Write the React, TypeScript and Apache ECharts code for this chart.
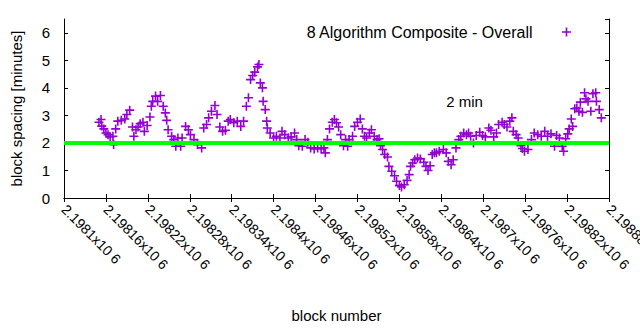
import React, { useEffect, useRef } from "react";
import * as echarts from "echarts";

const seriesName = "8 Algorithm Composite - Overall";
const xAxisTitle = "block number";
const yAxisTitle = "block spacing [minutes]";
const noteText = "2 min";
const notePosition = [2198647, 3.5];
const targetMinutes = 2;

const xMin = 2198100;
const xMax = 2198880;
const xStep = 60;
const xTickLabels = [
  "2.1981x10 6", "2.19816x10 6", "2.19822x10 6", "2.19828x10 6", "2.19834x10 6",
  "2.1984x10 6", "2.19846x10 6", "2.19852x10 6", "2.19858x10 6", "2.19864x10 6",
  "2.1987x10 6", "2.19876x10 6", "2.19882x10 6", "2.19888x10 6",
];
const yMin = 0;
const yMax = 6.5;
const yTickLabels = ["0", "1", "2", "3", "4", "5", "6"];

const blockNumbers = [
  2198150, 2198153, 2198154, 2198157, 2198160, 2198163, 2198166, 2198170, 2198171, 2198174,
  2198177, 2198182, 2198187, 2198190, 2198194, 2198198, 2198200, 2198203, 2198206, 2198209,
  2198213, 2198215, 2198219, 2198223, 2198225, 2198227, 2198231, 2198234, 2198238, 2198242,
  2198245, 2198247, 2198249, 2198254, 2198257, 2198260, 2198263, 2198267, 2198269, 2198274,
  2198278, 2198281, 2198286, 2198291, 2198297, 2198300, 2198304, 2198307, 2198311, 2198316,
  2198319, 2198323, 2198327, 2198331, 2198335, 2198338, 2198343, 2198348, 2198353, 2198357,
  2198361, 2198364, 2198367, 2198370, 2198373, 2198377, 2198379, 2198381, 2198384, 2198385,
  2198388, 2198390, 2198391, 2198395, 2198400, 2198404, 2198409, 2198412, 2198416, 2198421,
  2198425, 2198430, 2198433, 2198436, 2198441, 2198445, 2198449, 2198453, 2198458, 2198463,
  2198468, 2198472, 2198474, 2198477, 2198480, 2198484, 2198487, 2198490, 2198493, 2198496,
  2198500, 2198503, 2198506, 2198508, 2198513, 2198516, 2198520, 2198524, 2198527, 2198530,
  2198533, 2198537, 2198540, 2198544, 2198548, 2198551, 2198553, 2198556, 2198559, 2198563,
  2198565, 2198569, 2198573, 2198576, 2198580, 2198583, 2198587, 2198591, 2198594, 2198596,
  2198599, 2198602, 2198606, 2198610, 2198615, 2198618, 2198621, 2198624, 2198627, 2198630,
  2198633, 2198637, 2198643, 2198647, 2198650, 2198654, 2198657, 2198661, 2198665, 2198668,
  2198672, 2198676, 2198679, 2198682, 2198686, 2198690, 2198695, 2198699, 2198703, 2198708,
  2198711, 2198715, 2198719, 2198722, 2198727, 2198730, 2198734, 2198738, 2198741, 2198743,
  2198747, 2198750, 2198754, 2198756, 2198759, 2198764, 2198769, 2198773, 2198778, 2198783,
  2198788, 2198792, 2198797, 2198802, 2198805, 2198809, 2198813, 2198815, 2198818, 2198821,
  2198823, 2198826, 2198828, 2198831, 2198834, 2198837, 2198839, 2198842, 2198845, 2198847,
  2198850, 2198854, 2198857, 2198861, 2198862, 2198866, 2198869,
];

const spacingMinutes = [
  2.75, 2.85, 2.61, 2.51, 2.36, 2.30, 2.22, 2.24, 1.94, 2.51,
  2.79, 2.82, 2.87, 3.03, 3.19, 2.58, 2.24, 2.48, 2.58, 2.70,
  2.75, 2.42, 2.63, 2.94, 3.33, 3.51, 3.70, 3.51, 3.72, 3.33,
  3.09, 2.82, 2.48, 2.24, 2.12, 1.88, 2.18, 1.88, 2.18, 2.60,
  2.48, 2.30, 2.12, 1.94, 1.82, 2.54, 2.67, 2.91, 3.15, 3.36,
  3.03, 2.58, 2.42, 2.46, 2.79, 2.85, 2.73, 2.79, 2.60, 2.79,
  3.33, 3.64, 4.30, 4.45, 4.57, 4.76, 4.85, 4.18, 4.00, 3.51,
  3.21, 2.79, 2.54, 2.36, 2.18, 2.24, 2.18, 2.42, 2.30, 2.18,
  2.22, 2.36, 2.12, 1.90, 1.88, 2.12, 2.02, 1.82, 1.78, 1.82,
  1.78, 1.82, 1.64, 2.12, 2.51, 2.75, 2.85, 2.73, 2.58, 2.30,
  1.90, 2.12, 1.88, 2.12, 2.24, 2.60, 2.75, 2.87, 2.51, 2.24,
  2.18, 2.36, 2.48, 2.24, 2.12, 2.15, 1.90, 1.76, 1.58, 1.49,
  1.15, 0.97, 0.81, 0.61, 0.45, 0.40, 0.48, 0.64, 0.85, 1.15,
  1.27, 1.39, 1.45, 1.42, 1.30, 1.15, 1.00, 1.17, 1.58, 1.64,
  1.64, 1.70, 1.76, 1.64, 1.33, 1.21, 1.39, 1.82, 2.12, 2.24,
  2.36, 2.30, 2.36, 2.24, 2.00, 2.27, 2.39, 2.27, 2.22, 2.54,
  2.46, 2.22, 2.36, 2.67, 2.75, 2.67, 2.58, 2.79, 2.91, 2.42,
  2.30, 2.18, 1.90, 1.80, 1.70, 1.76, 2.12, 2.36, 2.30, 2.24,
  2.42, 2.24, 2.33, 1.88, 2.27, 2.18, 1.88, 1.70, 2.15, 2.33,
  2.51, 2.87, 2.60, 3.24, 3.27, 3.15, 3.48, 3.11, 3.82, 3.60,
  3.51, 3.15, 3.79, 3.82, 3.51, 3.21, 2.91,
];

const PURPLE = "#9400d3";
const GREEN = "#00ff00";
const FONT = "Liberation Sans";
const PLUS = "path://M3.7,0H5.3V3.7H9V5.3H5.3V9H3.7V5.3H0V3.7H3.7Z";

export default function App() {
  const ref = useRef<HTMLDivElement>(null);

  useEffect(() => {
    if (!ref.current) return;
    const chart = echarts.init(ref.current, undefined, { renderer: "svg" });

    const points = blockNumbers.map((b, i) => [b, spacingMinutes[i]]);

    const axisLineStyle = { color: "#000", width: 1 };
    const tick = { show: true, inside: true, length: 4, lineStyle: { color: "#000" } };

    chart.setOption({
      animation: false,
      backgroundColor: "#fff",
      textStyle: { fontFamily: FONT },
      grid: {
        left: 64,
        right: 31,
        top: 19,
        bottom: 132,
        containLabel: false,
        outerBoundsMode: "none",
      },
      legend: {
        data: [{ name: seriesName, icon: PLUS }],
        right: 69,
        top: 24,
        padding: 0,
        align: "right",
        itemWidth: 58,
        itemHeight: 9,
        selectedMode: false,
        textStyle: { fontFamily: FONT, fontSize: 16, color: "#000" },
      },
      xAxis: [
        {
          type: "value",
          min: xMin,
          max: xMax,
          interval: xStep,
          position: "bottom",
          name: xAxisTitle,
          nameLocation: "middle",
          nameGap: 110,
          nameTextStyle: { fontFamily: FONT, fontSize: 15, color: "#000" },
          axisLine: { show: true, lineStyle: axisLineStyle },
          axisTick: tick,
          splitLine: { show: false },
          axisLabel: {
            show: true,
            rotate: -45,
            margin: 9,
            fontFamily: FONT,
            fontSize: 14,
            color: "#000",
            showMinLabel: true,
            showMaxLabel: true,
            hideOverlap: false,
            formatter: (v: number) => xTickLabels[Math.round((v - xMin) / xStep)] ?? "",
          },
        },
        {
          type: "value",
          min: xMin,
          max: xMax,
          interval: xStep,
          position: "top",
          axisLine: { show: true, lineStyle: axisLineStyle },
          axisTick: tick,
          axisLabel: { show: false },
          splitLine: { show: false },
        },
      ],
      yAxis: [
        {
          type: "value",
          min: yMin,
          max: yMax,
          interval: 1,
          position: "left",
          name: yAxisTitle,
          nameLocation: "middle",
          nameGap: 40,
          nameRotate: 90,
          nameTextStyle: { fontFamily: FONT, fontSize: 15, color: "#000" },
          axisLine: { show: true, lineStyle: axisLineStyle },
          axisTick: tick,
          splitLine: { show: false },
          axisLabel: {
            margin: 14,
            fontFamily: FONT,
            fontSize: 15,
            color: "#000",
            showMaxLabel: false,
            formatter: (v: number) => {
              const i = Math.round(v);
              return Math.abs(v - i) < 1e-9 ? yTickLabels[i] ?? "" : "";
            },
          },
        },
        {
          type: "value",
          min: yMin,
          max: yMax,
          interval: 1,
          position: "right",
          axisLine: { show: true, lineStyle: axisLineStyle },
          axisTick: tick,
          axisLabel: { show: false },
          splitLine: { show: false },
        },
      ],
      series: [
        {
          name: seriesName,
          type: "scatter",
          xAxisIndex: 0,
          yAxisIndex: 0,
          symbol: PLUS,
          symbolSize: 9,
          itemStyle: { color: PURPLE, opacity: 1 },
          data: points,
          z: 2,
        },
        {
          name: "target",
          type: "line",
          xAxisIndex: 0,
          yAxisIndex: 0,
          data: [
            [xMin, targetMinutes],
            [xMax, targetMinutes],
          ],
          symbol: "none",
          silent: true,
          lineStyle: { color: GREEN, width: 4 },
          z: 3,
          markPoint: {
            silent: true,
            symbol: "circle",
            symbolSize: 0,
            data: [{ coord: notePosition }],
            label: {
              show: true,
              position: "right",
              distance: 0,
              formatter: noteText,
              fontFamily: FONT,
              fontSize: 15,
              color: "#000",
            },
          },
        },
      ],
    });

    return () => chart.dispose();
  }, []);

  return (
    <div
      ref={ref}
      style={{ position: "fixed", left: 0, top: 0, width: 640, height: 330, background: "#fff" }}
    />
  );
}
